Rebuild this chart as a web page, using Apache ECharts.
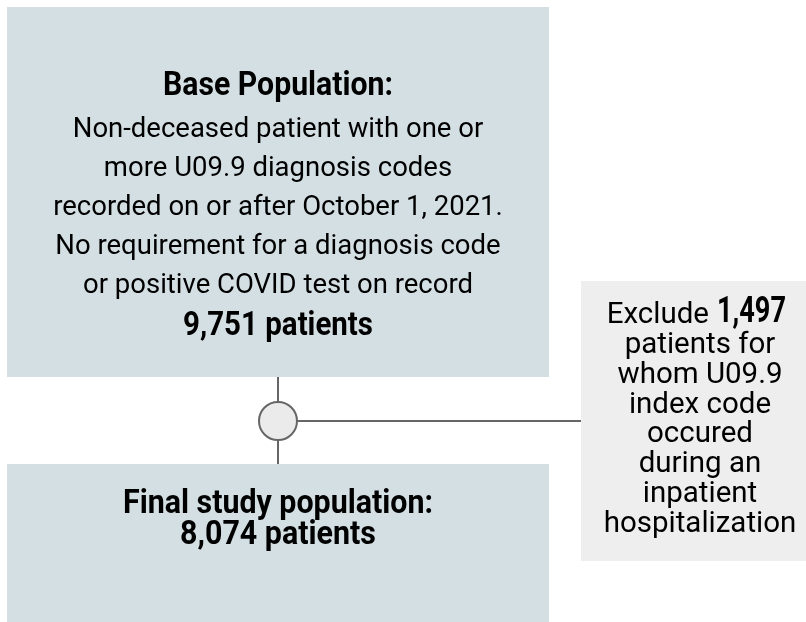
<!DOCTYPE html>
<html><head><meta charset="utf-8">
<script src="https://cdn.jsdelivr.net/npm/echarts@6/dist/echarts.min.js"></script>
<style>html,body{margin:0;padding:0;background:#fff}#c{width:806px;height:622px}</style>
</head><body><div id="c"></div>
<script>
// ---- data ----
const baseTitle = "Base Population:";
const baseLines = [
  "Non-deceased patient with one or",
  "more U09.9 diagnosis codes",
  "recorded on or after October 1, 2021.",
  "No requirement for a diagnosis code",
  "or positive COVID test on record"
];
const basePatients = 9751;
const excludedPatients = 1497;
const excludeLead = "Exclude";
const excludeLines = ["patients for", "whom U09.9", "index code", "occured", "during an", "inpatient", "hospitalization"];
const finalTitle = "Final study population:";
const finalPatients = 8074;

const fmt = n => n.toLocaleString('en-US');
const BODY = "Roboto, sans-serif";
const HEAD = "Roboto, sans-serif";

// condensed bold headline look: measure and squeeze horizontally to target width
const mctx = document.createElement('canvas').getContext('2d');
function squeeze(text, size, target) {
  mctx.font = 'bold ' + size + 'px Roboto';
  const w = mctx.measureText(text).width;
  return Math.min(1, target / w);
}

function headText(text, x, y, size, target, align) {
  return {type: 'text', x: x, y: y, scaleX: squeeze(text, size, target),
    style: {text: text, x: 0, y: 0, align: align || 'center', verticalAlign: 'middle',
      fontFamily: HEAD, fontWeight: 'bold', fontSize: size, fill: '#000'}};
}
function bodyText(text, x, y, size, align) {
  return {type: 'text', x: x, y: y,
    style: {text: text, x: 0, y: 0, align: align || 'center', verticalAlign: 'middle',
      fontFamily: BODY, fontSize: size, fill: '#000'}};
}

const g = [
  {type: 'rect', shape: {x: 7, y: 7, width: 542, height: 370}, style: {fill: '#d4dfe3'}},
  {type: 'rect', shape: {x: 7, y: 464, width: 542, height: 158}, style: {fill: '#d4dfe3'}},
  {type: 'rect', shape: {x: 581, y: 281, width: 240, height: 280}, style: {fill: '#eeeeee'}},
  {type: 'line', shape: {x1: 278, y1: 377, x2: 278, y2: 464}, style: {stroke: '#666', lineWidth: 2}},
  {type: 'line', shape: {x1: 297, y1: 421, x2: 581, y2: 421}, style: {stroke: '#666', lineWidth: 2}},
  {type: 'circle', shape: {cx: 278, cy: 421, r: 19}, style: {fill: '#ebebeb', stroke: '#666', lineWidth: 2}}
];

// top box
g.push(headText(baseTitle, 278, 86, 34, 230));
baseLines.forEach((l, i) => g.push(bodyText(l, 278, 130 + i * 39, 27.5)));
g.push(headText(fmt(basePatients) + ' patients', 278, 326, 34, 190));

// bottom box
g.push(headText(finalTitle, 278, 504, 34, 310));
g.push(headText(fmt(finalPatients) + ' patients', 278, 535, 34, 196));

// exclusion box
g.push(bodyText(excludeLead, 709, 316, 29.5, 'right'));
g.push(headText(fmt(excludedPatients), 717, 313, 36.5, 69, 'left'));
excludeLines.forEach((l, i) => g.push(bodyText(l, 700, 346 + i * 29.7, 29.5)));

const chart = echarts.init(document.getElementById('c'), null, {renderer: 'canvas'});
chart.setOption({animation: false, graphic: g});
</script></body></html>
